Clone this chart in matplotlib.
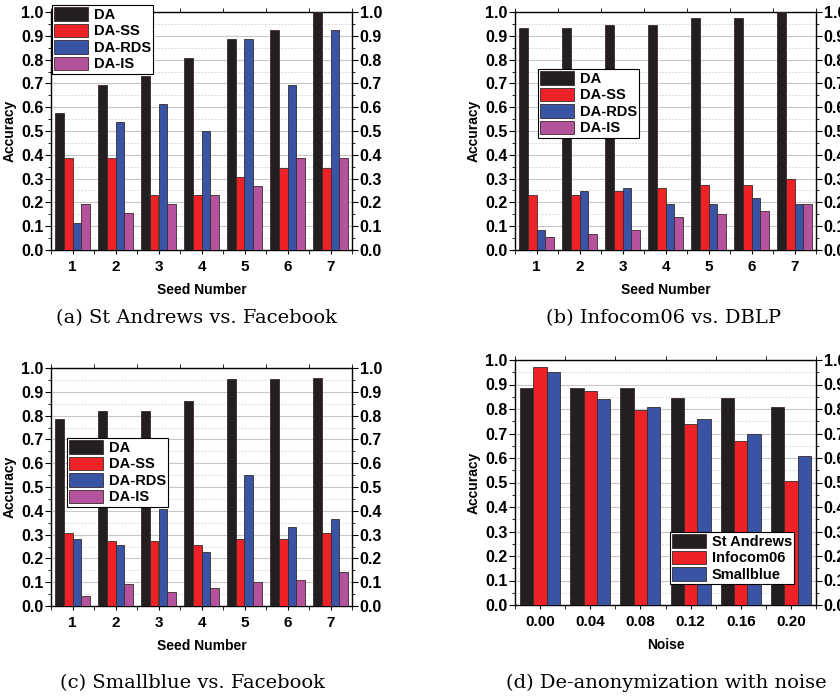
import matplotlib
matplotlib.use("Agg")
import matplotlib.pyplot as plt
from matplotlib.ticker import MultipleLocator, FixedLocator
import numpy as np

plt.rcParams['font.family'] = ['Liberation Sans', 'DejaVu Sans']
plt.rcParams['font.weight'] = 'bold'

seeds = [1, 2, 3, 4, 5, 6, 7]
methods = ['DA', 'DA-SS', 'DA-RDS', 'DA-IS']

# (a) St Andrews vs. Facebook
a_da = [0.577, 0.692, 0.731, 0.808, 0.885, 0.923, 1.0]
a_ss = [0.385, 0.385, 0.231, 0.231, 0.308, 0.346, 0.346]
a_rds = [0.115, 0.538, 0.615, 0.500, 0.885, 0.692, 0.923]
a_is = [0.192, 0.154, 0.192, 0.231, 0.269, 0.385, 0.385]

# (b) Infocom06 vs. DBLP
b_da = [0.933, 0.933, 0.947, 0.947, 0.973, 0.973, 1.0]
b_ss = [0.233, 0.233, 0.247, 0.260, 0.273, 0.273, 0.300]
b_rds = [0.082, 0.247, 0.260, 0.192, 0.192, 0.219, 0.192]
b_is = [0.055, 0.068, 0.082, 0.137, 0.151, 0.164, 0.192]

# (c) Smallblue vs. Facebook
c_da = [0.785, 0.818, 0.818, 0.860, 0.952, 0.952, 0.960]
c_ss = [0.308, 0.274, 0.274, 0.258, 0.283, 0.283, 0.308]
c_rds = [0.283, 0.258, 0.408, 0.225, 0.550, 0.333, 0.367]
c_is = [0.042, 0.092, 0.058, 0.075, 0.100, 0.108, 0.142]

# (d) noise
noise = ['0.00', '0.04', '0.08', '0.12', '0.16', '0.20']
datasets = ['St Andrews', 'Infocom06', 'Smallblue']
d_standrews = [0.885, 0.885, 0.885, 0.846, 0.846, 0.808]
d_infocom = [0.973, 0.875, 0.795, 0.740, 0.671, 0.507]
d_smallblue = [0.950, 0.842, 0.808, 0.758, 0.700, 0.608]

captions = ['(a) St Andrews vs. Facebook', '(b) Infocom06 vs. DBLP',
            '(c) Smallblue vs. Facebook', '(d) De-anonymization with noise']

colors = ['#231f20', '#ec2227', '#3a54a5', '#b5529e']
edge = '#3a2a2a'

fig = plt.figure(figsize=(8.4, 6.98), dpi=100)
W, H = 840.0, 698.0


def make_ax(left, top, right, bottom):
    return fig.add_axes([left / W, 1 - bottom / H, (right - left) / W, (bottom - top) / H])


def style(ax, n):
    ax.set_ylim(0, 1.0)
    ax.set_xlim(-0.5, n - 0.5)
    ax.yaxis.set_minor_locator(MultipleLocator(0.05))
    ax.xaxis.set_minor_locator(FixedLocator(np.arange(-0.5, n, 1.0)))
    ax.set_yticks(np.arange(0, 1.01, 0.1))
    ax.set_yticklabels(['%.1f' % v for v in np.arange(0, 1.01, 0.1)])
    ax.grid(axis='y', which='major', color='#c8c8c8', lw=0.8)
    ax.grid(axis='y', which='minor', color='#d0d0d0', lw=0.6, ls=(0, (2, 2)))
    ax.set_axisbelow(True)
    ax.tick_params(axis='y', which='both', direction='out', left=True, right=True,
                   labelleft=True, labelright=True, labelsize=11.5, pad=1.5)
    ax.tick_params(axis='y', which='major', length=4)
    ax.tick_params(axis='y', which='minor', length=2.5)
    ax.tick_params(axis='x', which='major', direction='out', length=3, labelsize=11, pad=4)
    ax.tick_params(axis='x', which='minor', direction='out', length=3, top=True)
    for s in ax.spines.values():
        s.set_linewidth(1.0)
    ax.set_ylabel('Accuracy', fontsize=10, fontweight='bold', labelpad=3)


def seed_panel(ax, series, legend_pos):
    x = np.arange(len(seeds))
    w = 0.2
    for i, vals in enumerate(series):
        ax.bar(x + (i - 1.5) * w, vals, w, color=colors[i], edgecolor=edge,
               linewidth=0.6, label=methods[i], zorder=3)
    style(ax, len(seeds))
    ax.set_xticks(x)
    ax.set_xticklabels([str(s) for s in seeds])
    ax.set_xlabel('Seed Number', fontsize=10, fontweight='bold', labelpad=7)
    leg = ax.legend(loc='upper left', bbox_to_anchor=(legend_pos[0] / W, 1 - legend_pos[1] / H),
                    bbox_transform=fig.transFigure, fontsize=10.5, frameon=True,
                    fancybox=False, edgecolor='black', framealpha=1, handlelength=2.3,
                    handleheight=1.05, labelspacing=0.12, borderpad=0.15,
                    handletextpad=0.4, borderaxespad=0)
    leg.get_frame().set_linewidth(0.8)
    leg.set_zorder(10)


ax1 = make_ax(51, 12, 352, 250)
seed_panel(ax1, [a_da, a_ss, a_rds, a_is], (52, 5))

ax2 = make_ax(515, 12, 816, 250)
seed_panel(ax2, [b_da, b_ss, b_rds, b_is], (538, 69))

ax3 = make_ax(51, 368, 352, 606)
seed_panel(ax3, [c_da, c_ss, c_rds, c_is], (67, 438))

ax4 = make_ax(515, 360, 816, 605)
x = np.arange(len(noise))
w = 0.8 / 3
for i, vals in enumerate([d_standrews, d_infocom, d_smallblue]):
    ax4.bar(x + (i - 1) * w, vals, w, color=colors[i], edgecolor=edge,
            linewidth=0.6, label=datasets[i], zorder=3)
style(ax4, len(noise))
ax4.set_xticks(x)
ax4.set_xticklabels(noise)
ax4.set_xlabel('Noise', fontsize=10, fontweight='bold', labelpad=7)
leg = ax4.legend(loc='upper left', bbox_to_anchor=(670 / W, 1 - 532 / H),
                 bbox_transform=fig.transFigure, fontsize=10.5, frameon=True,
                 fancybox=False, edgecolor='black', framealpha=1, handlelength=2.3,
                 handleheight=1.05, labelspacing=0.12, borderpad=0.15,
                 handletextpad=0.4, borderaxespad=0)
leg.get_frame().set_linewidth(0.8)

cap_pos = [(196, 318), (664, 318), (193, 683), (666, 683)]
for (cx, cy), txt in zip(cap_pos, captions):
    fig.text(cx / W, 1 - cy / H, txt, ha='center', va='center', fontsize=14,
             family='DejaVu Serif', fontweight='normal')

fig.savefig('out.png', dpi=100)
